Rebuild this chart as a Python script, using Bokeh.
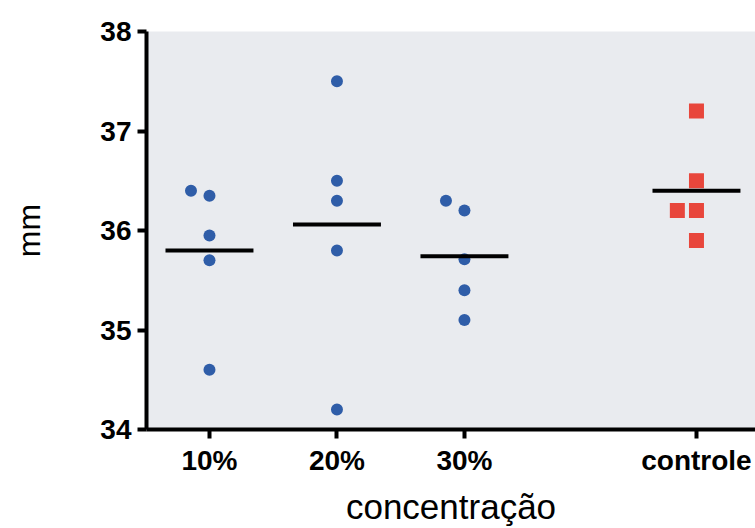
import numpy as np
from bokeh.plotting import figure
from bokeh.models import Range1d, FixedTicker
from bokeh.embed import file_html
from bokeh.resources import INLINE

# ---- data ----
groups = ["10%", "20%", "30%", "controle"]
group_pos = [1.0, 2.0, 3.0, 4.82]
vals_10 = [36.40, 36.35, 35.95, 35.70, 34.60]
vals_20 = [37.50, 36.50, 36.30, 35.80, 34.20]
vals_30 = [36.30, 36.20, 35.71, 35.40, 35.10]
vals_ctrl = [37.20, 36.50, 36.20, 36.20, 35.90]
y_ticks = [34, 35, 36, 37, 38]

series = [vals_10, vals_20, vals_30, vals_ctrl]

def swarm(pos, vals, step=0.145, tol=0.15):
    xs = []
    for i, v in enumerate(vals):
        close = any(abs(v - w) < tol for j, w in enumerate(vals) if j > i)
        xs.append(pos - step if close else pos)
    return xs

p = figure(width=755, height=528, output_backend="svg", toolbar_location=None,
           x_range=Range1d(0.506, 5.283), y_range=Range1d(34, 38),
           min_border_left=146, min_border_right=0, min_border_top=31,
           min_border_bottom=96)
p.background_fill_color = "#e9ebef"
p.border_fill_color = "white"
p.outline_line_color = None
p.grid.visible = False

blue_x, blue_y = [], []
for pos, vals in zip(group_pos[:3], series[:3]):
    blue_x += swarm(pos, vals)
    blue_y += vals
p.scatter(blue_x, blue_y, marker="circle", size=12, fill_color="#2f5da8",
          line_color=None)

red_x = swarm(group_pos[3], vals_ctrl, step=0.15)
p.scatter(red_x, vals_ctrl, marker="square", size=15, fill_color="#e8463c",
          line_color=None)

means = [float(np.mean(v)) for v in series]
half = 0.345
p.segment(x0=[g - half for g in group_pos], x1=[g + half for g in group_pos],
          y0=means, y1=means, line_color="black", line_width=4)

for ax in (p.xaxis[0], p.yaxis[0]):
    ax.axis_line_width = 4
    ax.axis_line_color = "black"
    ax.major_tick_line_width = 4
    ax.major_tick_out = 9
    ax.major_tick_in = 0
    ax.minor_tick_line_color = None
    ax.major_label_text_font = "Liberation Sans"
    ax.major_label_text_font_style = "bold"
    ax.major_label_text_font_size = "28px"
    ax.major_label_text_color = "black"
    ax.axis_label_text_font = "Liberation Sans"
    ax.axis_label_text_font_style = "normal"
    ax.axis_label_text_color = "black"

p.xaxis.ticker = FixedTicker(ticks=group_pos)
p.xaxis.major_label_overrides = {g: lab for g, lab in zip(group_pos, groups)}
p.xaxis.axis_label = "concentração"
p.xaxis.axis_label_text_font_size = "35px"
p.xaxis.major_label_standoff = 6
p.xaxis.axis_label_standoff = 8

p.yaxis.ticker = FixedTicker(ticks=y_ticks)
p.yaxis.axis_label = "mm"
p.yaxis.axis_label_text_font_size = "32px"
p.yaxis.major_label_standoff = 6
p.yaxis.axis_label_standoff = 50

open("out.html", "w").write(file_html(p, INLINE))
